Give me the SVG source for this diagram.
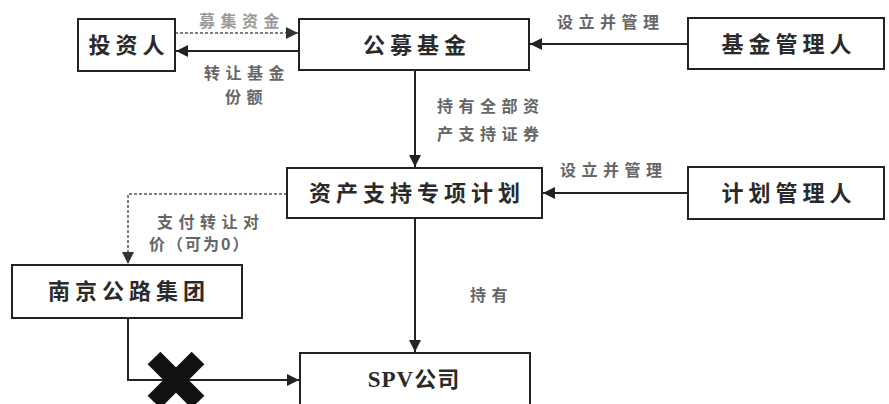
<svg xmlns="http://www.w3.org/2000/svg" width="889" height="404" viewBox="0 0 889 404">
<defs>
<style>
.box{fill:#fff;stroke:#222;stroke-width:2}
.nt{font-family:"Noto Sans CJK SC",sans-serif;font-weight:bold;font-size:22px;fill:#2a2a2a;text-anchor:middle;letter-spacing:5px}
.lb{font-family:"Noto Sans CJK SC",sans-serif;font-weight:bold;font-size:16px;fill:#666;letter-spacing:5.5px}
.ln{fill:none;stroke:#222;stroke-width:2}
.dl{fill:none;stroke:#555;stroke-width:1.5;stroke-dasharray:3 2}
</style>
<marker id="ah" viewBox="0 0 10 10" refX="10" refY="5" markerWidth="6" markerHeight="6" orient="auto" markerUnits="strokeWidth">
<path d="M0,0 L10,5 L0,10 z" fill="#222"/>
</marker>
<marker id="ahd" viewBox="0 0 10 10" refX="10" refY="5" markerWidth="8" markerHeight="8" orient="auto" markerUnits="strokeWidth">
<path d="M0,0 L10,5 L0,10 z" fill="#333"/>
</marker>
</defs>
<rect width="889" height="404" fill="#fff"/>
<g id="connectors">
<line class="dl" x1="175" y1="33" x2="298" y2="33" marker-end="url(#ahd)"/>
<line class="ln" x1="299" y1="51" x2="176" y2="51" marker-end="url(#ah)"/>
<line class="ln" x1="688" y1="44" x2="530" y2="44" marker-end="url(#ah)"/>
<line class="ln" x1="415" y1="70" x2="415" y2="167" marker-end="url(#ah)"/>
<line class="ln" x1="688" y1="193" x2="543" y2="193" marker-end="url(#ah)"/>
<polyline class="dl" points="287,194 128,194 128,264" marker-end="url(#ahd)"/>
<line class="ln" x1="415" y1="218" x2="415" y2="352" marker-end="url(#ah)"/>
<polyline class="ln" points="128,318 128,380 299,380" marker-end="url(#ah)"/>
<text class="lb" x="199" y="27" style="fill:#999">募集资金</text>
<text class="lb" x="204" y="79">转让基金</text>
<text class="lb" x="225" y="103">份额</text>
<text class="lb" x="557" y="28">设立并管理</text>
<text class="lb" x="437" y="112">持有全部资</text>
<text class="lb" x="437" y="140">产支持证券</text>
<text class="lb" x="560" y="176">设立并管理</text>
<text class="lb" x="157" y="228">支付转让对</text>
<text class="lb" x="149" y="250" style="letter-spacing:2px">价（可为0）</text>
<text class="lb" x="470" y="301">持有</text>
<g id="xmark">
<line x1="154" y1="358" x2="198" y2="402" stroke="#111" stroke-width="18"/>
<line x1="198" y1="358" x2="154" y2="402" stroke="#111" stroke-width="18"/>
</g>
</g>
<g id="investor"><rect class="box" x="78" y="19" width="97" height="52"/><text class="nt" x="129" y="53">投资人</text></g>
<g id="fund"><rect class="box" x="299" y="19" width="230" height="51"/><text class="nt" x="417" y="53">公募基金</text></g>
<g id="fundmgr"><rect class="box" x="688" y="18" width="196" height="51"/><text class="nt" x="789" y="52">基金管理人</text></g>
<g id="abs"><rect class="box" x="287" y="168" width="255" height="50"/><text class="nt" x="417" y="201">资产支持专项计划</text></g>
<g id="planmgr"><rect class="box" x="688" y="167" width="196" height="52"/><text class="nt" x="789" y="201">计划管理人</text></g>
<g id="nanjing"><rect class="box" x="12" y="265" width="230" height="53"/><text class="nt" x="129" y="299">南京公路集团</text></g>
<g id="spv"><rect class="box" x="300" y="353" width="230" height="54"/><text class="nt" x="414" y="387" style="letter-spacing:1px"><tspan style="font-family:'Liberation Serif',serif;font-size:23px">SPV</tspan>公司</text></g>
</svg>
